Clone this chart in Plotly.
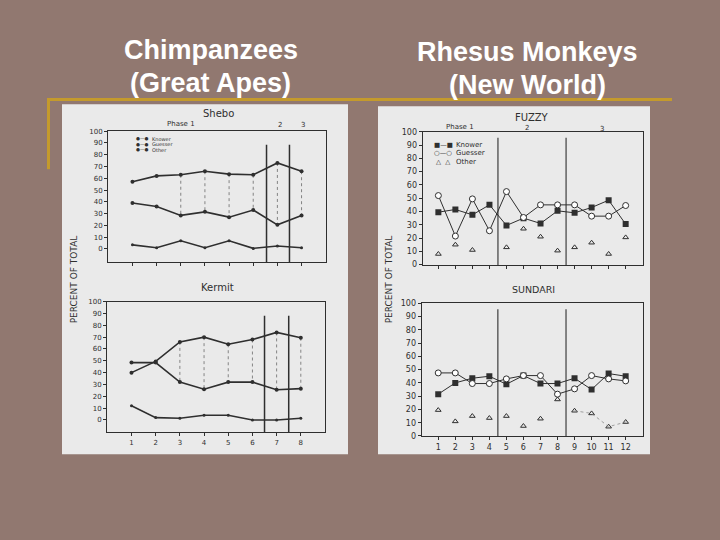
import plotly.graph_objects as go

W, H = 720, 540
BG = "#917870"
GOLD = "#c49a2c"
PANEL = "#eaeaea"
INK = "#2f2f2f"
FONT = "DejaVu Sans"

# ---------------- data ----------------
chimp_sessions = [1, 2, 3, 4, 5, 6, 7, 8]
shebo_knower = [57, 62, 63, 66, 63.5, 63, 73, 66]
shebo_guesser = [39, 36, 28.5, 31.5, 27, 33, 20.5, 28.5]
shebo_other = [3.5, 1, 7, 1, 7, 0.5, 2.5, 1]
kermit_knower = [40, 49.5, 66, 70, 64, 68, 74, 69.5]
kermit_guesser = [48.5, 48.5, 32, 26, 32, 32, 25.5, 26.5]
kermit_other = [12, 2, 1.5, 4, 4, 0, 0, 1.5]

rhesus_sessions = [1, 2, 3, 4, 5, 6, 7, 8, 9, 10, 11, 12]
fuzzy_knower = [39.5, 41.5, 37.5, 45, 29.5, 35, 31, 40.5, 39, 43, 48.5, 30.5]
fuzzy_guesser = [52, 21.5, 49.5, 25.5, 55, 35.5, 45, 45, 45, 36.5, 36.5, 44.5]
fuzzy_other = [8, 15, 11, None, 13, 27, 21, 10.5, 13, 16.5, 8, 20.5]
sundari_knower = [31.5, 40, 43.5, 45, 39, 45.5, 39.5, 39.5, 43.5, 35, 47, 45]
sundari_guesser = [47.5, 47.5, 39.5, 39.5, 43, 45.5, 45.5, 31.5, 35.5, 45.5, 43, 41.5]
sundari_other = [19.5, 11, 15, 13.5, 15, 7.5, 13, 27.5, 19, 17, 7, 10.5]

y_ticks = list(range(0, 101, 10))
chimp_connector_sessions = [3, 4, 5, 6, 7, 8]
sundari_other_dotted_from = 9


def xd(a, b):
    return [a / W, b / W]


def yd(top, bottom):
    return [1 - bottom / H, 1 - top / H]


def px(x):
    return x / W


def py(y):
    return 1 - y / H


fig = go.Figure()

# ---------- chimp traces ----------
def chimp(idx, knower, guesser, other):
    xa, ya = ("x", "y") if idx == 1 else (f"x{idx}", f"y{idx}")
    cx, cy = [], []
    for s in chimp_connector_sessions:
        i = chimp_sessions.index(s)
        cx += [s, s, None]
        cy += [knower[i], guesser[i], None]
    fig.add_trace(go.Scatter(x=cx, y=cy, mode="lines", xaxis=xa, yaxis=ya,
                             line=dict(color="#6a6a6a", width=0.8, dash="dot"),
                             showlegend=False, hoverinfo="skip"))
    for vals, name, sym, sz in [(knower, "Knower", "circle", 4),
                                 (guesser, "Guesser", "circle", 4),
                                 (other, "Other", "circle", 3)]:
        fig.add_trace(go.Scatter(x=chimp_sessions, y=vals, mode="lines+markers",
                                 name=name, xaxis=xa, yaxis=ya, showlegend=False,
                                 line=dict(color=INK, width=1.6),
                                 marker=dict(color=INK, size=sz, symbol=sym)))


chimp(1, shebo_knower, shebo_guesser, shebo_other)
chimp(2, kermit_knower, kermit_guesser, kermit_other)


def rhesus(idx, knower, guesser, other):
    xa, ya = f"x{idx}", f"y{idx}"
    fig.add_trace(go.Scatter(x=rhesus_sessions, y=knower, mode="lines+markers",
                             name="Knower", xaxis=xa, yaxis=ya, showlegend=False,
                             line=dict(color=INK, width=1),
                             marker=dict(color=INK, size=6, symbol="square")))
    fig.add_trace(go.Scatter(x=rhesus_sessions, y=guesser, mode="lines+markers",
                             name="Guesser", xaxis=xa, yaxis=ya, showlegend=False,
                             line=dict(color=INK, width=1),
                             marker=dict(color="white", size=6, symbol="circle",
                                         line=dict(color=INK, width=1))))
    fig.add_trace(go.Scatter(x=rhesus_sessions, y=other, mode="markers",
                             name="Other", xaxis=xa, yaxis=ya, showlegend=False,
                             marker=dict(color=INK, size=5, symbol="triangle-up-open",
                                         line=dict(width=1))))


rhesus(3, fuzzy_knower, fuzzy_guesser, fuzzy_other)
rhesus(4, sundari_knower, sundari_guesser, sundari_other)

# faint dotted trail joining the last Sundari "Other" points
k = rhesus_sessions.index(sundari_other_dotted_from)
fig.add_trace(go.Scatter(x=rhesus_sessions[k:], y=sundari_other[k:], mode="lines",
                         xaxis="x4", yaxis="y4", showlegend=False, hoverinfo="skip",
                         line=dict(color="#8a8a8a", width=0.8, dash="dot")))

# ---------- axes ----------
axis_common = dict(showline=True, mirror=True, linecolor=INK, linewidth=1.4,
                   ticks="outside", ticklen=3, tickcolor=INK, tickwidth=1,
                   showgrid=False, zeroline=False, fixedrange=True)

layout_axes = {}
# Shebo
layout_axes["xaxis"] = dict(axis_common, domain=xd(108.3, 325.7), range=[0, 9],
                            tickvals=chimp_sessions, showticklabels=False, anchor="y")
layout_axes["yaxis"] = dict(axis_common, domain=yd(129.3, 262.3), range=[-11, 100],
                            tickvals=y_ticks, anchor="x",
                            tickfont=dict(family=FONT, size=7, color=INK))
# Kermit
layout_axes["xaxis2"] = dict(axis_common, domain=xd(107.3, 325), range=[0, 9],
                             tickvals=chimp_sessions, anchor="y2",
                             tickfont=dict(family=FONT, size=7, color=INK))
layout_axes["yaxis2"] = dict(axis_common, domain=yd(302.7, 435.3), range=[-10.2, 100],
                             tickvals=y_ticks, anchor="x2",
                             tickfont=dict(family=FONT, size=7, color=INK))
# Fuzzy
layout_axes["xaxis3"] = dict(axis_common, domain=xd(422.7, 642.7), range=[0.08, 13],
                             tickvals=rhesus_sessions, showticklabels=False, anchor="y3",
                             linewidth=1.1)
layout_axes["yaxis3"] = dict(axis_common, domain=yd(130, 265.7), range=[-0.5, 100],
                             tickvals=y_ticks, anchor="x3", linewidth=1.1,
                             tickfont=dict(family=FONT, size=8, color=INK))
# Sundari
layout_axes["xaxis4"] = dict(axis_common, domain=xd(421.7, 642.7), range=[0.03, 13],
                             tickvals=rhesus_sessions, anchor="y4", linewidth=1.1,
                             tickfont=dict(family=FONT, size=8, color=INK))
layout_axes["yaxis4"] = dict(axis_common, domain=yd(304.3, 439.3), range=[0, 100],
                             tickvals=y_ticks, anchor="x4", linewidth=1.1,
                             tickfont=dict(family=FONT, size=8, color=INK))

# ---------- shapes ----------
shapes = [
    # white scanned panels
    dict(type="rect", xref="paper", yref="paper", x0=px(62), x1=px(348),
         y0=py(458), y1=py(102), fillcolor=PANEL, line=dict(width=0), layer="below"),
    dict(type="rect", xref="paper", yref="paper", x0=px(378), x1=px(650),
         y0=py(458), y1=py(104), fillcolor=PANEL, line=dict(width=0), layer="below"),
    # gold rules
    dict(type="line", xref="paper", yref="paper", x0=px(47), x1=px(672),
         y0=py(97), y1=py(97), line=dict(color=GOLD, width=3)),
    dict(type="line", xref="paper", yref="paper", x0=px(48.5), x1=px(48.5),
         y0=py(96), y1=py(168), line=dict(color=GOLD, width=3)),
]
# phase dividers
for xa, ya, xs, y0, y1 in [("x", "y", [6.55, 7.5], -11, 88.5),
                           ("x2", "y2", [6.5, 7.5], -10.2, 88),
                           ("x3", "y3", [4.5, 8.5], -0.5, 95.5),
                           ("x4", "y4", [4.5, 8.5], 0, 95.5)]:
    for xv in xs:
        shapes.append(dict(type="line", xref=xa, yref=ya, x0=xv, x1=xv, y0=y0, y1=y1,
                           line=dict(color=INK, width=1.5 if xa in ("x", "x2") else 1.1)))

# ---------- annotations ----------
ann = []
TITLE_FONT = dict(family="Liberation Sans", size=27, color="white")
for text, x, y in [("<b>Chimpanzees</b>", 211, 47), ("<b>(Great Apes)</b>", 210, 80),
                   ("<b>Rhesus Monkeys</b>", 527, 49), ("<b>(New World)</b>", 527, 82)]:
    ann.append(dict(text=text, x=px(x), y=py(y), xref="paper", yref="paper",
                    showarrow=False, xanchor="center", yanchor="middle", font=TITLE_FONT))

for text, x, y, size in [("Shebo", 219, 111, 10), ("Kermit", 217, 288, 10),
                         ("FUZZY", 532, 115, 10), ("SUNDARI", 533, 290, 9.5),
                         ("Phase 1", 181, 122, 7), ("2", 280, 123, 7), ("3", 303, 123, 7),
                         ("Phase 1", 460, 125, 7), ("2", 527, 126, 7), ("3", 602, 127, 7)]:
    ann.append(dict(text=text, x=px(x), y=py(y), xref="paper", yref="paper",
                    showarrow=False, xanchor="center", yanchor="middle",
                    font=dict(family=FONT, size=size, color=INK)))

for x in (74, 389):
    ann.append(dict(text="PERCENT OF TOTAL", x=px(x), y=py(280), xref="paper",
                    yref="paper", showarrow=False, textangle=-90, xanchor="center",
                    yanchor="middle", font=dict(family=FONT, size=9, color=INK)))

# legends
for sym, label, y in [("●—●", "Knower", 137), ("●—●", "Guesser", 142.5), ("●—●", "Other", 148)]:
    ann.append(dict(text=sym, x=px(142), y=py(y), xref="paper", yref="paper",
                    showarrow=False, xanchor="center", yanchor="middle",
                    font=dict(family=FONT, size=4.5, color=INK)))
    ann.append(dict(text=label, x=px(150), y=py(y), xref="paper", yref="paper",
                    showarrow=False, xanchor="left", yanchor="middle",
                    font=dict(family=FONT, size=5, color=INK)))
for sym, label, y in [("■—■", "Knower", 143.5), ("○—○", "Guesser", 152), ("△  △", "Other", 161)]:
    ann.append(dict(text=sym, x=px(443), y=py(y), xref="paper", yref="paper",
                    showarrow=False, xanchor="center", yanchor="middle",
                    font=dict(family=FONT, size=6.5, color=INK)))
    ann.append(dict(text=label, x=px(454), y=py(y), xref="paper", yref="paper",
                    showarrow=False, xanchor="left", yanchor="middle",
                    font=dict(family=FONT, size=7, color=INK)))

fig.update_layout(width=W, height=H, margin=dict(l=0, r=0, t=0, b=0),
                  paper_bgcolor=BG, plot_bgcolor="rgba(0,0,0,0)",
                  shapes=shapes, annotations=ann, showlegend=False,
                  **layout_axes)

fig.write_html("out.html", config={"displayModeBar": False},
               post_script="document.body.style.margin='0';"
                           "document.body.style.overflow='hidden';"
                           "document.body.style.background='" + BG + "';")
